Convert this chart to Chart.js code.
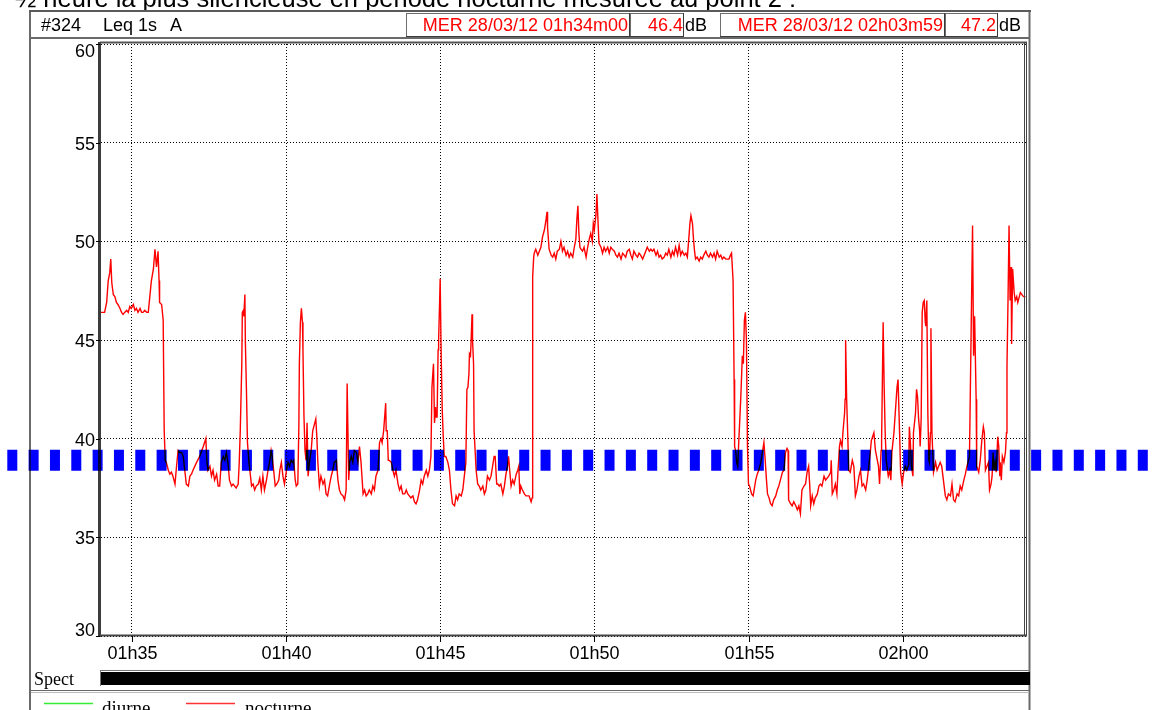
<!DOCTYPE html>
<html lang="fr">
<head>
<meta charset="utf-8">
<title>Leq 1s – point 2</title>
<script src="https://cdn.jsdelivr.net/npm/chart.js@4.4.1/dist/chart.umd.min.js"></script>
<style>
  html, body { margin: 0; padding: 0; background: #fff; overflow: hidden; }
  canvas { display: block; }
</style>
</head>
<body>
<canvas id="c" width="1153" height="710"></canvas>
<script>
// Textes et repères
const titre = '½ heure la plus silencieuse en période nocturne mesurée au point 2 :';
const voie = ['#324', 'Leq 1s', 'A'];
const debut = 'MER 28/03/12 01h34m00';
const fin = 'MER 28/03/12 02h03m59';
const unite = 'dB';
const graduationsX = [60, 360, 660, 960, 1260, 1560];
const etiquettesX = ['01h35', '01h40', '01h45', '01h50', '01h55', '02h00'];
const graduationsY = [30, 35, 40, 45, 50, 55, 60];
const niveauFond = 38.9;
const legende = ['diurne', 'nocturne'];

// Leq 1s (dB(A)) en secondes depuis 01h34m00
const secondes = [
  0, 7, 11, 14, 17, 19, 21, 24, 27, 30, 33, 37, 40, 43, 46, 50, 53, 56, 59, 63,
  66, 69, 72, 76, 79, 82, 85, 89, 92, 95, 98, 102, 105, 108, 111, 113, 114, 118, 121, 123,
  125, 127, 131, 134, 137, 140, 144, 147, 150, 153, 157, 160, 163, 166, 170, 173, 176, 179, 186, 192,
  199, 204, 206, 208, 212, 215, 218, 221, 225, 228, 231, 234, 238, 241, 244, 247, 250, 254, 257, 263,
  267, 269, 271, 274, 275, 277, 278, 280, 281, 283, 285, 288, 293, 296, 299, 302, 306, 309, 312, 315,
  318, 322, 325, 328, 331, 333, 336, 339, 342, 346, 348, 351, 354, 357, 361, 364, 367, 370, 373, 375,
  378, 380, 383, 385, 386, 388, 390, 392, 393, 395, 397, 399, 401, 403, 406, 409, 412, 416, 418, 420,
  422, 425, 428, 432, 435, 438, 441, 445, 448, 451, 454, 458, 461, 464, 467, 471, 474, 477, 479, 480,
  482, 484, 487, 490, 493, 497, 500, 503, 506, 510, 513, 516, 519, 522, 526, 529, 532, 535, 539, 542,
  545, 547, 550, 552, 554, 555, 557, 559, 561, 565, 568, 571, 574, 578, 581, 584, 587, 591, 594, 597,
  600, 603, 607, 610, 613, 616, 620, 623, 626, 629, 633, 636, 639, 642, 644, 647, 649, 651, 652, 654,
  656, 657, 659, 660, 662, 664, 666, 668, 671, 675, 678, 681, 684, 688, 691, 694, 697, 701, 704, 707,
  710, 712, 714, 716, 717, 719, 720, 722, 723, 725, 726, 730, 733, 736, 739, 743, 746, 749, 752, 756,
  759, 762, 765, 767, 770, 772, 775, 778, 782, 785, 788, 791, 793, 796, 798, 801, 804, 808, 811, 813,
  815, 817, 820, 824, 827, 830, 833, 837, 839, 840, 842, 843, 846, 850, 853, 856, 859, 863, 866, 868,
  869, 872, 876, 879, 882, 885, 888, 892, 895, 897, 898, 901, 905, 908, 911, 914, 918, 921, 924, 926,
  928, 930, 932, 934, 937, 940, 944, 947, 950, 953, 956, 958, 960, 963, 965, 967, 969, 973, 976, 979,
  982, 986, 989, 992, 995, 999, 1002, 1005, 1008, 1012, 1015, 1018, 1021, 1024, 1028, 1031, 1034, 1037, 1041, 1044,
  1047, 1050, 1054, 1057, 1060, 1063, 1067, 1070, 1073, 1076, 1080, 1083, 1086, 1089, 1092, 1096, 1099, 1102, 1105, 1109,
  1112, 1115, 1118, 1122, 1125, 1128, 1131, 1135, 1138, 1141, 1144, 1146, 1148, 1151, 1153, 1155, 1157, 1160, 1164, 1167,
  1170, 1173, 1177, 1180, 1183, 1186, 1190, 1193, 1196, 1199, 1203, 1206, 1209, 1212, 1216, 1219, 1222, 1225, 1227, 1230,
  1232, 1233, 1235, 1237, 1239, 1241, 1245, 1248, 1250, 1252, 1254, 1256, 1258, 1260, 1262, 1266, 1269, 1271, 1274, 1277,
  1280, 1284, 1287, 1290, 1292, 1295, 1297, 1300, 1303, 1306, 1309, 1313, 1316, 1319, 1322, 1326, 1329, 1332, 1335, 1337,
  1338, 1342, 1345, 1348, 1352, 1355, 1358, 1361, 1364, 1368, 1371, 1374, 1377, 1379, 1381, 1384, 1387, 1390, 1394, 1397,
  1400, 1403, 1407, 1410, 1416, 1420, 1421, 1423, 1426, 1429, 1432, 1434, 1437, 1439, 1442, 1444, 1447, 1448, 1449, 1451,
  1453, 1455, 1458, 1462, 1465, 1468, 1471, 1475, 1478, 1481, 1484, 1488, 1491, 1494, 1497, 1499, 1504, 1507, 1513, 1515,
  1518, 1519, 1522, 1524, 1526, 1528, 1532, 1535, 1537, 1539, 1543, 1549, 1551, 1554, 1556, 1559, 1562, 1565, 1568, 1572,
  1573, 1575, 1577, 1580, 1581, 1585, 1587, 1589, 1591, 1593, 1594, 1596, 1598, 1600, 1602, 1604, 1605, 1607, 1609, 1611,
  1612, 1614, 1615, 1617, 1620, 1624, 1627, 1630, 1633, 1636, 1643, 1646, 1649, 1653, 1656, 1659, 1662, 1666, 1669, 1672,
  1675, 1679, 1682, 1685, 1688, 1690, 1693, 1696, 1698, 1700, 1703, 1704, 1708, 1711, 1714, 1717, 1719, 1721, 1724, 1727,
  1729, 1732, 1734, 1736, 1738, 1740, 1742, 1745, 1747, 1749, 1750, 1752, 1754, 1757, 1760, 1762, 1763, 1765, 1767, 1769,
  1771, 1772, 1774, 1777, 1779, 1782, 1784, 1787, 1789, 1792, 1795, 1799
];
const niveaux = [
  46.4, 46.4, 46.9, 48.0, 48.4, 49.1, 47.9, 47.3, 47.2, 46.9, 46.8, 46.6, 46.4, 46.3, 46.4, 46.5, 46.4, 46.7, 46.6, 46.8,
  46.5, 46.6, 46.4, 46.6, 46.4, 46.4, 46.5, 46.4, 46.4, 47.2, 48.0, 48.6, 49.6, 48.7, 49.5, 48.0, 46.9, 46.8, 46.0, 40.4,
  38.9, 38.8, 38.4, 38.2, 38.3, 38.1, 37.7, 38.6, 39.4, 39.3, 39.3, 39.1, 38.4, 37.7, 37.6, 38.1, 38.2, 38.4, 38.8, 39.1,
  39.6, 40.0, 38.9, 38.4, 38.6, 38.1, 38.4, 37.9, 38.2, 37.6, 37.6, 38.8, 39.1, 38.9, 39.3, 38.8, 37.9, 37.6, 37.7, 37.5,
  37.7, 38.8, 40.4, 43.8, 46.4, 46.5, 46.2, 47.3, 44.8, 42.5, 39.8, 38.8, 37.6, 37.7, 37.4, 37.6, 37.7, 38.0, 37.4, 38.1,
  37.4, 37.9, 38.4, 38.8, 39.4, 39.1, 38.4, 37.6, 37.7, 37.9, 38.4, 38.8, 38.1, 37.7, 38.4, 38.8, 38.6, 38.9, 38.8, 38.9,
  37.9, 37.6, 37.7, 40.6, 43.8, 45.9, 46.6, 45.9, 44.5, 41.1, 39.4, 38.9, 40.8, 38.1, 38.9, 39.4, 40.4, 40.8, 41.0, 40.1,
  38.8, 37.6, 38.1, 37.7, 37.9, 37.2, 37.1, 37.7, 38.1, 38.4, 38.8, 38.9, 37.9, 37.4, 37.2, 37.1, 36.9, 37.4, 42.8, 42.8,
  37.9, 38.8, 39.1, 38.8, 39.4, 39.3, 38.8, 39.6, 38.8, 37.2, 37.4, 37.1, 37.2, 37.4, 37.2, 37.6, 37.4, 38.1, 38.4, 39.8,
  40.0, 39.8, 40.4, 41.1, 41.8, 40.4, 40.4, 38.9, 38.9, 38.8, 38.4, 38.1, 38.4, 37.7, 37.4, 37.6, 37.2, 37.2, 37.4, 37.2,
  37.1, 37.0, 37.1, 36.8, 36.7, 36.9, 37.4, 37.9, 37.7, 38.1, 38.4, 38.1, 38.4, 39.1, 42.6, 43.8, 40.8, 41.6, 41.1, 41.1,
  44.5, 45.0, 47.0, 48.1, 44.2, 41.5, 40.1, 39.1, 39.1, 38.8, 38.4, 37.4, 36.7, 36.6, 37.1, 36.9, 37.2, 37.1, 37.4, 38.1,
  38.8, 42.5, 42.6, 43.3, 44.3, 44.2, 44.8, 46.3, 45.0, 43.8, 40.4, 38.4, 37.7, 37.6, 37.4, 37.6, 37.2, 37.4, 38.1, 37.9,
  38.1, 38.6, 39.1, 39.1, 37.7, 37.7, 37.6, 37.7, 37.2, 37.6, 38.2, 38.6, 39.1, 38.2, 37.6, 37.9, 37.7, 38.2, 38.4, 38.6,
  37.2, 37.6, 37.4, 37.2, 37.1, 37.1, 37.1, 36.8, 37.0, 48.2, 49.2, 49.4, 49.6, 49.3, 49.5, 49.7, 50.2, 50.6, 51.1, 51.5,
  50.7, 49.6, 49.3, 49.2, 49.4, 49.1, 49.5, 49.6, 50.0, 49.7, 49.5, 49.7, 49.3, 49.5, 49.2, 49.4, 49.2, 49.7, 50.1, 51.1,
  51.8, 50.4, 49.7, 49.6, 49.5, 49.7, 49.2, 49.7, 50.1, 50.4, 50.0, 50.9, 50.6, 51.3, 52.4, 51.1, 49.9, 49.7, 49.4, 49.7,
  49.5, 49.7, 49.4, 49.7, 49.6, 49.5, 49.3, 49.2, 49.4, 49.1, 49.4, 49.3, 49.2, 49.5, 49.6, 49.3, 49.1, 49.5, 49.3, 49.2,
  49.4, 49.3, 49.1, 49.3, 49.5, 49.7, 49.5, 49.6, 49.5, 49.6, 49.3, 49.5, 49.2, 49.3, 49.1, 49.2, 49.4, 49.3, 49.6, 49.2,
  49.5, 49.3, 49.7, 49.3, 49.8, 49.3, 49.5, 49.3, 49.4, 49.2, 50.2, 50.9, 51.3, 50.9, 50.1, 49.5, 49.1, 49.2, 49.0, 49.2,
  49.1, 49.3, 49.5, 49.3, 49.2, 49.4, 49.2, 49.4, 49.1, 49.5, 49.2, 49.3, 49.1, 49.2, 49.1, 49.1, 49.1, 49.3, 49.4, 48.0,
  43.0, 39.6, 39.4, 38.8, 38.6, 39.8, 42.1, 44.2, 43.8, 46.0, 46.4, 45.0, 39.6, 37.7, 37.6, 37.2, 37.1, 37.4, 37.9, 38.2,
  38.4, 38.8, 39.3, 39.8, 39.1, 37.9, 37.2, 37.0, 36.7, 36.6, 36.9, 37.1, 37.4, 37.6, 37.9, 38.3, 38.4, 39.3, 39.5, 39.4,
  36.9, 36.7, 36.6, 36.8, 36.6, 36.4, 36.6, 36.2, 37.4, 37.6, 37.7, 38.3, 38.6, 37.7, 36.6, 37.1, 36.7, 37.0, 37.2, 37.6,
  37.7, 37.6, 38.1, 37.9, 38.1, 38.3, 38.9, 37.2, 37.4, 37.7, 37.2, 38.3, 39.6, 39.9, 39.6, 40.4, 41.3, 42.0, 45.0, 42.0,
  40.3, 38.4, 38.3, 38.9, 38.6, 37.1, 37.4, 38.1, 38.4, 37.6, 37.7, 37.4, 37.9, 38.6, 39.3, 39.9, 40.3, 39.4, 38.6, 37.7,
  39.4, 39.9, 45.9, 42.6, 40.3, 38.9, 38.1, 38.4, 37.9, 39.3, 40.3, 42.6, 43.0, 40.3, 38.3, 37.7, 38.3, 38.6, 38.4, 38.7,
  40.6, 39.8, 38.6, 38.1, 40.3, 41.3, 42.5, 42.1, 41.0, 40.4, 39.6, 41.0, 46.4, 46.9, 47.0, 45.9, 45.7, 47.0, 41.3, 38.9,
  38.8, 40.3, 45.6, 40.3, 38.3, 38.8, 38.4, 38.6, 38.8, 38.6, 37.1, 36.9, 37.2, 37.1, 37.7, 36.9, 36.8, 37.2, 37.1, 37.6,
  37.4, 37.9, 38.2, 38.6, 38.9, 39.1, 45.0, 50.8, 44.2, 46.2, 42.0, 38.6, 38.3, 38.9, 39.9, 40.6, 40.3, 38.4, 38.6, 38.8,
  37.4, 37.7, 38.1, 39.3, 38.4, 38.8, 38.3, 40.1, 39.6, 38.1, 38.8, 37.9, 39.1, 38.8, 39.3, 40.3, 43.7, 47.0, 50.8, 47.0,
  48.7, 44.8, 48.6, 47.4, 47.0, 47.2, 46.9, 47.2, 47.4, 47.3, 47.2, 47.2
];

const POLICE = '"Liberation Sans", Arial, sans-serif';
const SERIF = '"Liberation Serif", "Times New Roman", serif';

function texte(ctx, str, x, y, font, color, align) {
  ctx.save();
  ctx.font = font;
  ctx.fillStyle = color;
  ctx.textAlign = align;
  ctx.textBaseline = 'alphabetic';
  ctx.fillText(str, x, y);
  ctx.restore();
}

function trait(ctx, x1, y1, x2, y2, color, w) {
  ctx.save();
  ctx.strokeStyle = color;
  ctx.lineWidth = w;
  ctx.beginPath();
  ctx.moveTo(x1, y1);
  ctx.lineTo(x2, y2);
  ctx.stroke();
  ctx.restore();
}

function cadre(ctx, x, y, w, h) {
  // case en relief du bandeau d'en-tête
  trait(ctx, x, y + 0.5, x + w, y + 0.5, '#6e6e6e', 1);
  trait(ctx, x + 0.5, y, x + 0.5, y + h, '#6e6e6e', 1);
  trait(ctx, x, y + h - 0.5, x + w, y + h - 0.5, '#3a3a3a', 1);
  trait(ctx, x + w - 0.5, y, x + w - 0.5, y + h, '#3a3a3a', 1);
}

const habillage = {
  id: 'habillage',
  beforeDraw(chart) {
    const ctx = chart.ctx;
    ctx.save();
    ctx.fillStyle = '#ffffff';
    ctx.fillRect(0, 0, chart.width, chart.height);
    ctx.restore();
  },
  afterDatasetsDraw(chart) {
    const ctx = chart.ctx;
    const a = chart.chartArea;
    const sx = chart.scales.x, sy = chart.scales.y;

    // titre (coupé en haut de page)
    texte(ctx, titre, 15, 7, '25.5px ' + POLICE, '#000', 'left');

    // cadre général
    trait(ctx, 30, 11, 30, 710, '#6a6a6a', 2);
    trait(ctx, 1029.5, 11, 1029.5, 710, '#6a6a6a', 2);
    trait(ctx, 29, 11, 1031, 11, '#5a5a5a', 2);
    trait(ctx, 31, 38, 1029, 38, '#6a6a6a', 2);

    // en-tête de voie
    texte(ctx, voie[0], 41, 31, '18px ' + POLICE, '#000', 'left');
    texte(ctx, voie[1], 103, 31, '18px ' + POLICE, '#000', 'left');
    texte(ctx, voie[2], 170, 31, '18px ' + POLICE, '#000', 'left');

    cadre(ctx, 406, 13, 224, 24);
    cadre(ctx, 630, 13, 54, 24);
    cadre(ctx, 720, 13, 225, 24);
    cadre(ctx, 945, 13, 53, 24);
    const rouge = '#ff0000';
    texte(ctx, debut, 628, 31, '18px ' + POLICE, rouge, 'right');
    texte(ctx, niveaux[0].toFixed(1), 683, 31, '18px ' + POLICE, rouge, 'right');
    texte(ctx, unite, 685, 31, '18px ' + POLICE, '#000', 'left');
    texte(ctx, fin, 943, 31, '18px ' + POLICE, rouge, 'right');
    texte(ctx, niveaux[niveaux.length - 1].toFixed(1), 996, 31, '18px ' + POLICE, rouge, 'right');
    texte(ctx, unite, 999, 31, '18px ' + POLICE, '#000', 'left');

    // cadre du tracé
    trait(ctx, a.left - 1.5, a.top - 2, a.left - 1.5, a.bottom + 1, '#3c3c3c', 3);
    trait(ctx, a.left - 1, a.top - 1.5, a.right + 1, a.top - 1.5, '#555', 2);
    trait(ctx, a.left - 1, a.bottom - 0.5, a.right + 1, a.bottom - 0.5, '#444', 2);
    trait(ctx, a.right - 1.5, a.top - 2, a.right - 1.5, a.bottom, '#444', 1);
    trait(ctx, a.right + 0.5, a.top - 2, a.right + 0.5, a.bottom, '#444', 1);

    // graduations et étiquettes de l'axe des niveaux
    graduationsY.forEach(v => {
      const py = Math.round(sy.getPixelForValue(v));
      trait(ctx, a.left - 5, py + 0.5, a.left - 1, py + 0.5, '#000', 1);
      const cy = Math.max(a.top + 6.5, Math.min(py, a.bottom - 6.5));
      texte(ctx, String(v), a.left - 6, cy + 6.5, '18px ' + POLICE, '#000', 'right');
    });

    // graduations et étiquettes de l'axe du temps
    graduationsX.forEach((v, i) => {
      const px = Math.round(sx.getPixelForValue(v)) + 0.5;
      trait(ctx, px, a.bottom, px, a.bottom + 6, '#000', 1);
      texte(ctx, etiquettesX[i], px, a.bottom + 23, '18px ' + POLICE, '#000', 'center');
    });

    // bande spectre
    texte(ctx, 'Spect', 34, 685, '18px ' + SERIF, '#000', 'left');
    trait(ctx, 100, 670.5, 1030, 670.5, '#777', 1);
    trait(ctx, 100.5, 670, 100.5, 686, '#777', 1);
    ctx.save();
    ctx.fillStyle = '#000';
    ctx.fillRect(101, 672, 929, 13);
    ctx.restore();

    // séparation et légende
    trait(ctx, 31, 690.5, 1029, 690.5, '#666', 1);
    trait(ctx, 31, 692.5, 1029, 692.5, '#bbb', 1);
    trait(ctx, 44, 703.5, 93, 703.5, '#33ee33', 1.5);
    texte(ctx, legende[0], 102, 714, '19px ' + SERIF, '#000', 'left');
    trait(ctx, 186, 703.5, 235, 703.5, '#ff3333', 1.5);
    texte(ctx, legende[1], 245, 714, '19px ' + SERIF, '#000', 'left');
  },
  afterDraw(chart) {
    // niveau de fond : trait épais en tirets, composé en multiplication
    const ctx = chart.ctx;
    const y = chart.scales.y.getPixelForValue(niveauFond);
    ctx.save();
    ctx.globalCompositeOperation = 'multiply';
    ctx.strokeStyle = '#0000ff';
    ctx.lineWidth = 21;
    ctx.setLineDash([10, 11.33]);
    ctx.beginPath();
    ctx.moveTo(7.3, y);
    ctx.lineTo(chart.width, y);
    ctx.stroke();
    ctx.restore();
  }
};

new Chart(document.getElementById('c'), {
  type: 'line',
  data: {
    datasets: [{
      label: legende[1],
      data: secondes.map((s, i) => ({ x: s, y: niveaux[i] })),
      borderColor: '#ff0000',
      borderWidth: 1.4,
      pointRadius: 0,
      tension: 0,
      fill: false
    }]
  },
  options: {
    responsive: false,
    animation: false,
    devicePixelRatio: 1,
    layout: { padding: { left: 101, top: 44, right: 127, bottom: 74 } },
    plugins: { legend: { display: false }, tooltip: { enabled: false } },
    scales: {
      x: {
        type: 'linear', min: 0, max: 1800,
        afterBuildTicks: s => { s.ticks = graduationsX.map(v => ({ value: v })); },
        afterFit: s => { s.height = 0; },
        ticks: { display: false },
        grid: { color: '#000', lineWidth: 1, drawTicks: false },
        border: { display: false, dash: [1, 2] }
      },
      y: {
        type: 'linear', min: 30, max: 60,
        afterBuildTicks: s => { s.ticks = graduationsY.map(v => ({ value: v })); },
        afterFit: s => { s.width = 0; },
        ticks: { display: false },
        grid: { color: '#000', lineWidth: 1, drawTicks: false },
        border: { display: false, dash: [1, 2] }
      }
    }
  },
  plugins: [habillage]
});
</script>
</body>
</html>
